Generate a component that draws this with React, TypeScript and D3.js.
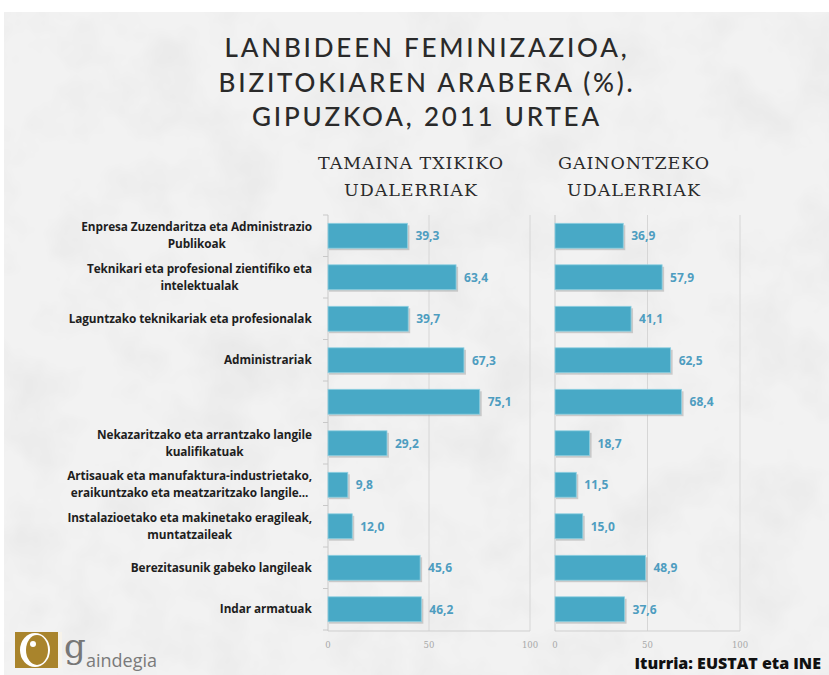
import React, { useEffect, useRef } from 'react';
import * as d3 from 'd3';

// occupation groups (line breaks as in the original labels)
const categories: string[][] = [
  ['Enpresa Zuzendaritza eta Administrazio', 'Publikoak'],
  ['Teknikari eta profesional zientifiko eta', 'intelektualak'],
  ['Laguntzako teknikariak eta profesionalak'],
  ['Administrariak'],
  [''],
  ['Nekazaritzako eta arrantzako langile', 'kualifikatuak'],
  ['Artisauak eta manufaktura-industrietako,', 'eraikuntzako eta meatzaritzako langile...'],
  ['Instalazioetako eta makinetako eragileak,', 'muntatzaileak'],
  ['Berezitasunik gabeko langileak'],
  ['Indar armatuak'],
];
const smallTowns = [39.3, 63.4, 39.7, 67.3, 75.1, 29.2, 9.8, 12.0, 45.6, 46.2];
const otherTowns = [36.9, 57.9, 41.1, 62.5, 68.4, 18.7, 11.5, 15.0, 48.9, 37.6];
const xTicks = [0, 50, 100];
const titleLines = ['LANBIDEEN FEMINIZAZIOA,', 'BIZITOKIAREN ARABERA (%).', 'GIPUZKOA, 2011 URTEA'];
const panelHeads = [['TAMAINA TXIKIKO', 'UDALERRIAK'], ['GAINONTZEKO', 'UDALERRIAK']];

const W = 829, H = 675;
const BAR = '#48a9c6';
const fmt = (v: number) => v.toFixed(1).replace('.', ',');

export default function App() {
  const ref = useRef<SVGSVGElement>(null);

  useEffect(() => {
    const svg = d3.select(ref.current);
    svg.selectAll('*').remove();

    // textured paper background
    const defs = svg.append('defs');
    const f = defs.append('filter').attr('id', 'paper').attr('x', 0).attr('y', 0).attr('width', 1).attr('height', 1);
    f.append('feTurbulence').attr('type', 'fractalNoise').attr('baseFrequency', 0.015).attr('numOctaves', 4).attr('seed', 3);
    f.append('feColorMatrix').attr('type', 'matrix')
      .attr('values', '0 0 0 0 0  0 0 0 0 0  0 0 0 0 0  0 0 0 -0.9 0.55');
    svg.append('rect').attr('width', W).attr('height', H).attr('fill', '#fff');
    svg.append('rect').attr('x', 4).attr('y', 12).attr('width', W - 4).attr('height', H - 12).attr('fill', '#f2f2f2');
    svg.append('rect').attr('x', 4).attr('y', 12).attr('width', W - 4).attr('height', H - 12)
      .attr('filter', 'url(#paper)').attr('opacity', 0.08);

    // title
    svg.append('g').selectAll('text').data(titleLines).enter().append('text')
      .attr('x', 427).attr('y', (d, i) => 57 + i * 34.5)
      .attr('text-anchor', 'middle')
      .style('font-family', 'Lato, "Open Sans", sans-serif').style('font-weight', 500)
      .style('font-size', '26px').style('letter-spacing', '2.8px').attr('fill', '#2a2a2a')
      .text(d => d);

    const y = d3.scaleBand<number>().domain(d3.range(categories.length))
      .range([215, 630]).paddingInner(0.4).paddingOuter(0.2);

    const panels = [
      { values: smallTowns, x: d3.scaleLinear().domain([0, 100]).range([328, 530]), head: panelHeads[0], hx: 411, ticks: true },
      { values: otherTowns, x: d3.scaleLinear().domain([0, 100]).range([555, 740]), head: panelHeads[1], hx: 634, ticks: false },
    ];

    panels.forEach(p => {
      const g = svg.append('g');
      const [y0, y1] = y.range();

      g.selectAll('text.head').data(p.head).enter().append('text')
        .attr('x', p.hx).attr('y', (d, i) => 169 + i * 27)
        .attr('text-anchor', 'middle')
        .style('font-family', '"DejaVu Serif", serif').style('font-size', '17.5px')
        .style('letter-spacing', '0.9px').attr('fill', '#2a2a2a')
        .text(d => d);

      // grid
      g.selectAll('line.grid').data(xTicks.slice(1)).enter().append('line')
        .attr('x1', d => p.x(d)).attr('x2', d => p.x(d)).attr('y1', y0).attr('y2', y1 + 1)
        .attr('stroke', '#d6d6d6').attr('stroke-width', 1);

      // x axis
      g.append('line').attr('x1', p.x(0)).attr('x2', p.x(100)).attr('y1', y1 + 1).attr('y2', y1 + 1)
        .attr('stroke', '#cfcfcf');
      g.selectAll('text.tick').data(xTicks).enter().append('text')
        .attr('x', d => p.x(d)).attr('y', y1 + 18).attr('text-anchor', 'middle')
        .style('font-family', '"DejaVu Serif", serif').style('font-size', '8.5px').attr('fill', '#a8a8a8')
        .text(d => d);

      // y axis
      g.append('line').attr('x1', p.x(0)).attr('x2', p.x(0)).attr('y1', y0).attr('y2', y1 + 1)
        .attr('stroke', '#c8c8c8');
      if (p.ticks) {
        g.selectAll('line.yt').data(d3.range(categories.length + 1)).enter().append('line')
          .attr('x1', p.x(0) - 5).attr('x2', p.x(0))
          .attr('y1', i => y0 + i * y.step()).attr('y2', i => y0 + i * y.step())
          .attr('stroke', '#c8c8c8');
      }

      // bars with shadow
      const rows = g.selectAll('g.row').data(p.values).enter().append('g');
      rows.append('rect')
        .attr('x', p.x(0) + 1).attr('y', (d, i) => (y(i) as number) + 2)
        .attr('width', d => p.x(d) - p.x(0) + 1).attr('height', y.bandwidth())
        .attr('fill', '#9a9a9a').attr('opacity', 0.45);
      rows.append('rect')
        .attr('x', p.x(0)).attr('y', (d, i) => y(i) as number)
        .attr('width', d => p.x(d) - p.x(0)).attr('height', y.bandwidth())
        .attr('fill', BAR).attr('stroke', '#8fd0e2').attr('stroke-width', 0.8);
      rows.append('text')
        .attr('x', d => p.x(d) + 8).attr('y', (d, i) => (y(i) as number) + y.bandwidth() / 2 + 4.5)
        .style('font-family', '"Open Sans", sans-serif').style('font-weight', 700).style('font-size', '12px')
        .attr('fill', '#4e9dc0')
        .text(d => fmt(d));
    });

    // category labels
    const lab = svg.append('g');
    categories.forEach((lines, i) => {
      const cy = (y(i) as number) + y.bandwidth() / 2;
      const t = lab.append('text').attr('text-anchor', 'middle')
        .style('font-family', '"Open Sans", sans-serif').style('font-weight', 700)
        .style('font-size', '11.8px').style('letter-spacing', '-0.1px').attr('fill', '#1e1e1e');
      lines.forEach((l, j) => {
        t.append('tspan').attr('x', 0).attr('y', cy + 4 + (j - (lines.length - 1) / 2) * 17).text(l);
      });
    });
    // right-align each multi-line block, centred lines inside it
    lab.selectAll<SVGTextElement, unknown>('text').each(function () {
      const bb = this.getBBox();
      d3.select(this).attr('transform', `translate(${312 - bb.width / 2},0)`);
    });

    // logo
    const logo = svg.append('g');
    logo.append('rect').attr('x', 15).attr('y', 632).attr('width', 47).attr('height', 36).attr('fill', '#a9842c');
    logo.append('ellipse').attr('cx', 35).attr('cy', 650).attr('rx', 15).attr('ry', 17).attr('fill', '#fff');
    logo.append('ellipse').attr('cx', 37).attr('cy', 650).attr('rx', 11).attr('ry', 15).attr('fill', '#a9842c');
    logo.append('circle').attr('cx', 33).attr('cy', 644).attr('r', 3).attr('fill', '#fff');
    logo.append('rect').attr('x', 58).attr('y', 632).attr('width', 4).attr('height', 36).attr('fill', '#fff').attr('opacity', 0.9);
    logo.append('text').attr('x', 64).attr('y', 658)
      .style('font-family', '"DejaVu Serif", serif').style('font-size', '34px').attr('fill', '#777')
      .text('g');
    logo.append('text').attr('x', 86).attr('y', 667)
      .style('font-family', '"Open Sans", sans-serif').style('font-size', '18px').attr('fill', '#7a7a7a')
      .text('aindegia');

    // source
    svg.append('text').attr('x', 821).attr('y', 669).attr('text-anchor', 'end')
      .style('font-family', '"Open Sans", sans-serif').style('font-weight', 800).style('font-size', '16px')
      .attr('fill', '#111')
      .text('Iturria: EUSTAT eta INE');
  }, []);

  return (
    <svg ref={ref} width={W} height={H} viewBox={`0 0 ${W} ${H}`}
      style={{ position: 'absolute', left: 0, top: 0, display: 'block' }} />
  );
}
